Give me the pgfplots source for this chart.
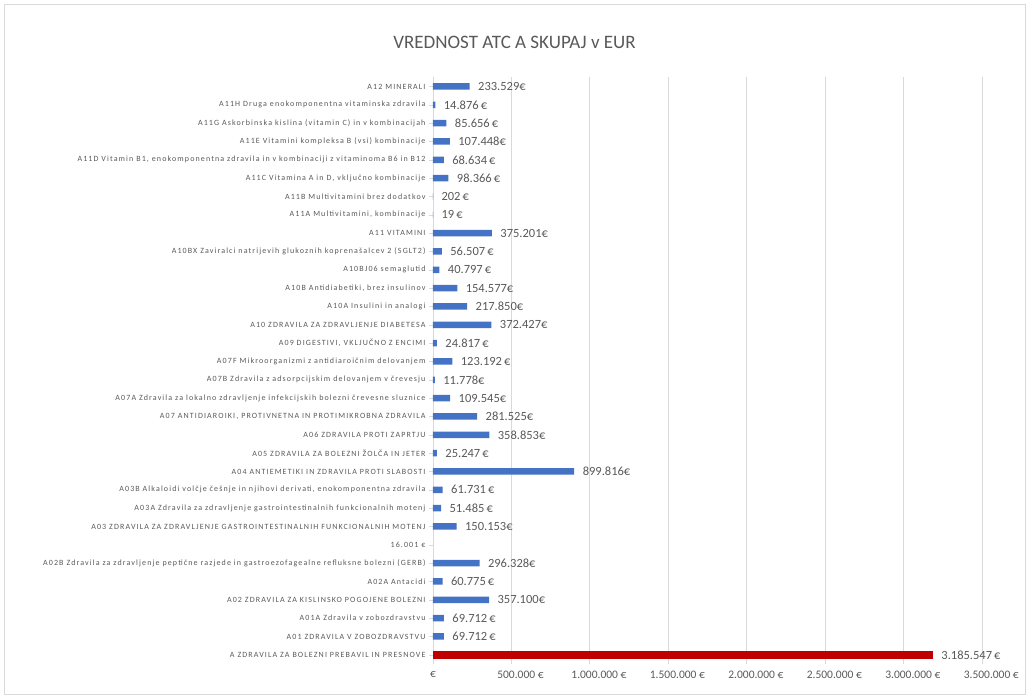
\documentclass[border=0pt]{standalone}
\usepackage{fontspec}
\setmainfont{Carlito}
\newfontfamily\catfont[LetterSpace=14]{Carlito}
\usepackage{pgfplots}
\pgfplotsset{compat=1.18}
\definecolor{barblue}{HTML}{4472C4}
\definecolor{barred}{HTML}{C00000}
\definecolor{txt}{HTML}{595959}
\definecolor{gridc}{HTML}{D9D9D9}
\begin{document}
\begin{tikzpicture}[x=1pt,y=1pt]
\useasboundingbox (0,0) rectangle (1029,698);
\draw[gridc] (4,4) rectangle (1025,694);
\node[text=txt, font=\fontsize{19}{22}\selectfont] at (514.5,656) {VREDNOST ATC A SKUPAJ v EUR};
\begin{axis}[at={(433pt,34pt)}, anchor=south west, scale only axis,
  width=565pt, height=586.7pt,
  xbar, bar shift=0pt, enlargelimits=false,
  xmin=0, xmax=3600000, ymin=-0.5, ymax=31.5,
  scaled x ticks=false,
  xtick={0,500000,1000000,1500000,2000000,2500000,3000000,3500000},
  xticklabels={€\hspace*{18pt}, 500.000 €, 1.000.000 €, 1.500.000 €, 2.000.000 €, 2.500.000 €, 3.000.000 €, 3.500.000 €},
  ytick={0,...,31}, ytick pos=left,
  yticklabels={
    A ZDRAVILA ZA BOLEZNI PREBAVIL IN PRESNOVE,
    A01 ZDRAVILA V ZOBOZDRAVSTVU,
    A01A Zdravila v zobozdravstvu,
    A02 ZDRAVILA ZA KISLINSKO POGOJENE BOLEZNI,
    A02A Antacidi,
    A02B Zdravila za zdravljenje peptične razjede in gastroezofagealne refluksne bolezni (GERB),
    16.001 €,
    A03 ZDRAVILA ZA ZDRAVLJENJE GASTROINTESTINALNIH FUNKCIONALNIH MOTENJ,
    A03A Zdravila za zdravljenje gastrointestinalnih funkcionalnih motenj,
    {A03B Alkaloidi volčje češnje in njihovi derivati, enokomponentna zdravila},
    A04 ANTIEMETIKI IN ZDRAVILA PROTI SLABOSTI,
    A05 ZDRAVILA ZA BOLEZNI ŽOLČA IN JETER,
    A06 ZDRAVILA PROTI ZAPRTJU,
    {A07 ANTIDIAROIKI, PROTIVNETNA IN PROTIMIKROBNA ZDRAVILA},
    A07A Zdravila za lokalno zdravljenje infekcijskih bolezni črevesne sluznice,
    A07B Zdravila z adsorpcijskim delovanjem v črevesju,
    A07F Mikroorganizmi z antidiaroičnim delovanjem,
    {A09 DIGESTIVI, VKLJUČNO Z ENCIMI},
    A10 ZDRAVILA ZA ZDRAVLJENJE DIABETESA,
    A10A Insulini in analogi,
    {A10B Antidiabetiki, brez insulinov},
    A10BJ06 semaglutid,
    A10BX Zaviralci natrijevih glukoznih koprenašalcev 2 (SGLT2),
    A11 VITAMINI,
    {A11A Multivitamini, kombinacije},
    A11B Multivitamini brez dodatkov,
    {A11C Vitamina A in D, vključno kombinacije},
    {A11D Vitamin B1, enokomponentna zdravila in v kombinaciji z vitaminoma B6 in B12},
    A11E Vitamini kompleksa B (vsi) kombinacije,
    A11G Askorbinska kislina (vitamin C) in v kombinacijah,
    A11H Druga enokomponentna vitaminska zdravila,
    A12 MINERALI},
  xmajorgrids, major grid style={gridc, line width=0.9pt},
  axis line style={draw=none},
  x tick style={draw=none}, y tick style={gridc}, tick align=outside, major tick length=4pt,
  yticklabel style={font=\catfont\fontsize{8}{9}\selectfont, text=txt},
  xticklabel style={font=\fontsize{11.5}{13}\selectfont, text=txt, xshift=9pt},
  nodes near coords, point meta=explicit symbolic,
  nodes near coords style={font=\fontsize{12.5}{14}\selectfont, text=txt, anchor=west, xshift=5pt},
  /pgf/number format/assume math mode=true,
]
\addplot[fill=barblue, draw=none, bar width=6.5pt] coordinates {
  (69712,1) [69.712\,€]
  (69712,2) [69.712\,€]
  (357100,3) [357.100€]
  (60775,4) [60.775\,€]
  (296328,5) [296.328€]
  (150153,7) [150.153€]
  (51485,8) [51.485\,€]
  (61731,9) [61.731\,€]
  (899816,10) [899.816€]
  (25247,11) [25.247\,€]
  (358853,12) [358.853€]
  (281525,13) [281.525€]
  (109545,14) [109.545€]
  (11778,15) [11.778€]
  (123192,16) [123.192\,€]
  (24817,17) [24.817\,€]
  (372427,18) [372.427€]
  (217850,19) [217.850€]
  (154577,20) [154.577€]
  (40797,21) [40.797\,€]
  (56507,22) [56.507\,€]
  (375201,23) [375.201€]
  (19,24) [19\,€]
  (202,25) [202\,€]
  (98366,26) [98.366\,€]
  (68634,27) [68.634\,€]
  (107448,28) [107.448€]
  (85656,29) [85.656\,€]
  (14876,30) [14.876\,€]
  (233529,31) [233.529€]
};
\addplot[fill=barred, draw=none, bar width=8.5pt] coordinates {
  (3185547,0) [3.185.547\,€]
};
\end{axis}
\end{tikzpicture}
\end{document}
